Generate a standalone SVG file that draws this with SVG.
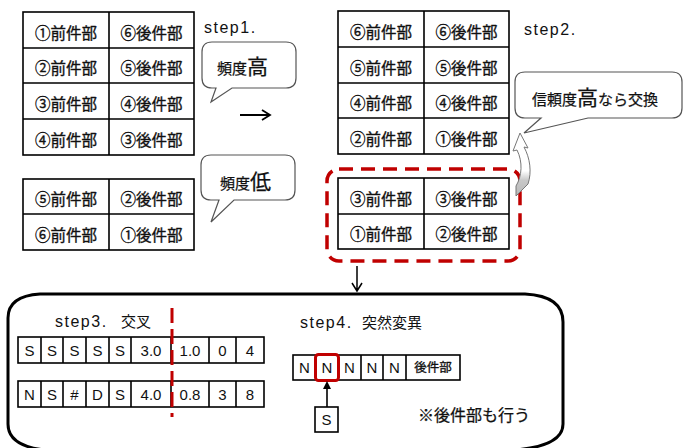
<svg xmlns="http://www.w3.org/2000/svg" width="683" height="448" viewBox="0 0 683 448">
<defs>
<style>
.cell{fill:#fff;stroke:#000;stroke-width:1.6}
.jp{font-family:"Noto Sans CJK JP","Noto Sans CJK SC",sans-serif;font-size:15.5px;fill:#111;stroke:#111;stroke-width:0.35;text-anchor:middle}
.lat{font-family:"Liberation Sans",Arial,sans-serif;font-size:15px;fill:#111;text-anchor:middle}
.step{font-family:"Liberation Sans",Arial,sans-serif;font-size:16px;letter-spacing:1.5px;fill:#111}
.jpl{font-family:"Noto Sans CJK JP","Noto Sans CJK SC",sans-serif;fill:#111;stroke:#111;stroke-width:0.25}
.bub{fill:#fff;stroke:#555;stroke-width:1.2}
.red{fill:none;stroke:#c00000;stroke-width:3.5;stroke-dasharray:14 8}
.ln{stroke:#000;stroke-width:1.6;fill:none}
</style>
<linearGradient id="gg" x1="0" y1="0" x2="0" y2="1">
<stop offset="0" stop-color="#fff"/>
<stop offset="0.6" stop-color="#fff"/>
<stop offset="0.75" stop-color="#c8c8c8"/>
<stop offset="1" stop-color="#b8b8b8"/>
</linearGradient>
</defs>
<rect width="683" height="448" fill="#fff"/>

<g id="table1">
<rect class="cell" x="23" y="12" width="171" height="143"/>
<path class="ln" d="M109,12V155M23,48H194M23,83H194M23,119H194"/>
<text class="jp" x="66" y="39">①前件部</text><text class="jp" x="151.5" y="39">⑥後件部</text>
<text class="jp" x="66" y="74">②前件部</text><text class="jp" x="151.5" y="74">⑤後件部</text>
<text class="jp" x="66" y="110">③前件部</text><text class="jp" x="151.5" y="110">④後件部</text>
<text class="jp" x="66" y="146">④前件部</text><text class="jp" x="151.5" y="146">③後件部</text>
</g>

<g id="table2">
<rect class="cell" x="23" y="179" width="171" height="71"/>
<path class="ln" d="M109,179V250M23,214H194"/>
<text class="jp" x="66" y="205">⑤前件部</text><text class="jp" x="151.5" y="205">②後件部</text>
<text class="jp" x="66" y="241">⑥前件部</text><text class="jp" x="151.5" y="241">①後件部</text>
</g>

<g id="step1"><text class="step" x="204" y="33">step1.</text></g>

<g id="bubble-high">
<path class="bub" d="M212,42H286Q296,42 296,52V78Q296,88 286,88H232L211,102L216,88H212Q202,88 202,78V52Q202,42 212,42Z"/>
<text class="jpl" x="217" y="74" font-size="15">頻度<tspan font-size="21">高</tspan></text>
</g>

<g id="bubble-low">
<path class="bub" d="M211,155H285Q295,155 295,165V190Q295,200 285,200H234L211,222L219,200H211Q201,200 201,190V165Q201,155 211,155Z"/>
<text class="jpl" x="220" y="189" font-size="15">頻度<tspan font-size="21">低</tspan></text>
</g>

<g id="table3">
<rect class="cell" x="338" y="11" width="171" height="143"/>
<path class="ln" d="M424,11V154M338,47H509M338,83H509M338,118H509"/>
<text class="jp" x="381" y="38">⑥前件部</text><text class="jp" x="466.5" y="38">⑥後件部</text>
<text class="jp" x="381" y="74">⑤前件部</text><text class="jp" x="466.5" y="74">⑤後件部</text>
<text class="jp" x="381" y="109">④前件部</text><text class="jp" x="466.5" y="109">④後件部</text>
<text class="jp" x="381" y="145">②前件部</text><text class="jp" x="466.5" y="145">①後件部</text>
</g>

<g id="step2"><text class="step" x="524" y="35">step2.</text></g>

<g id="bubble-swap">
<path class="bub" d="M525,72H672Q682,72 682,82V108Q682,118 672,118H588L524,133L541,118H525Q515,118 515,108V82Q515,72 525,72Z"/>
<text class="jpl" x="532" y="105" font-size="15">信頼度<tspan font-size="21">高</tspan>なら交換</text>
</g>

<g id="table4">
<rect class="cell" x="338" y="178" width="171" height="71"/>
<path class="ln" d="M424,178V249M338,214H509"/>
<text class="jp" x="381" y="205">③前件部</text><text class="jp" x="466.5" y="205">③後件部</text>
<text class="jp" x="381" y="240">①前件部</text><text class="jp" x="466.5" y="240">②後件部</text>
</g>

<g id="selection">
<rect class="red" x="327" y="169" width="193" height="92" rx="12" ry="12"/>
</g>

<g id="mutation-box">
<path d="M40,294H525Q563,296 563,322V424Q563,446 515,450H45Q8,446 8,424V318Q8,296 40,294Z" fill="none" stroke="#000" stroke-width="3"/>
</g>

<g id="step3">
<text class="step" x="55" y="327">step3.<tspan x="121" font-family="Noto Sans CJK JP,sans-serif" font-size="15" letter-spacing="0">交叉</tspan></text>
<g>
<rect class="cell" x="18" y="337" width="246" height="26"/>
<path class="ln" d="M41,337V363M63,337V363M86,337V363M109,337V363M131,337V363M171,337V363M209,337V363M236,337V363"/>
<text class="lat" x="29.5" y="356">S</text><text class="lat" x="52" y="356">S</text><text class="lat" x="74.5" y="356">S</text><text class="lat" x="97.5" y="356">S</text><text class="lat" x="120" y="356">S</text>
<text class="lat" x="151" y="356">3.0</text><text class="lat" x="190" y="356">1.0</text><text class="lat" x="222.5" y="356">0</text><text class="lat" x="250" y="356">4</text>
</g>
<g>
<rect class="cell" x="18" y="381" width="246" height="26"/>
<path class="ln" d="M41,381V407M63,381V407M86,381V407M109,381V407M131,381V407M171,381V407M209,381V407M236,381V407"/>
<text class="lat" x="29.5" y="400">N</text><text class="lat" x="52" y="400">S</text><text class="lat" x="74.5" y="400">#</text><text class="lat" x="97.5" y="400">D</text><text class="lat" x="120" y="400">S</text>
<text class="lat" x="151" y="400">4.0</text><text class="lat" x="190" y="400">0.8</text><text class="lat" x="222.5" y="400">3</text><text class="lat" x="250" y="400">8</text>
</g>
<line x1="172" y1="308" x2="172" y2="417" stroke="#c00000" stroke-width="3" stroke-dasharray="15 6"/>
</g>

<g id="step4">
<text class="step" x="300" y="328">step4.<tspan x="362" font-family="Noto Sans CJK JP,sans-serif" font-size="15" letter-spacing="0">突然変異</tspan></text>
<rect class="cell" x="293" y="355" width="167" height="25"/>
<path class="ln" d="M316,355V380M338,355V380M361,355V380M383,355V380M406,355V380"/>
<text class="lat" x="304.5" y="373">N</text><text class="lat" x="327" y="373">N</text><text class="lat" x="349.5" y="373">N</text><text class="lat" x="372" y="373">N</text><text class="lat" x="394.5" y="373">N</text>
<text class="jp" x="433" y="372" font-size="12.5" style="font-size:12.5px">後件部</text>
<rect x="315.5" y="354.5" width="23" height="26" rx="3" fill="none" stroke="#c00000" stroke-width="3"/>
</g>

<g id="s-box">
<rect class="cell" x="315" y="407" width="23" height="25"/>
<text class="lat" x="326.5" y="425">S</text>
</g>

<g id="note">
<text class="jpl" x="418" y="421" font-size="16">※後件部も行う</text>
</g>

<g id="connectors">
<path d="M240,115H269M262,110L270,115L262,120" fill="none" stroke="#000" stroke-width="1.8"/>
<path d="M357,266V290M352,283L357,291L362,283" fill="none" stroke="#000" stroke-width="1.5"/>
<path d="M327,407V386" fill="none" stroke="#000" stroke-width="1.6"/>
<path d="M323,389L327,381L331,389Z" fill="#000"/>
<path d="M520,133L528,148L524,147C530,158 532,172 528,184L516,196L516,186C522,176 523,162 517,150L513,151Z" fill="url(#gg)" stroke="#777" stroke-width="1"/>
</g>
</svg>
